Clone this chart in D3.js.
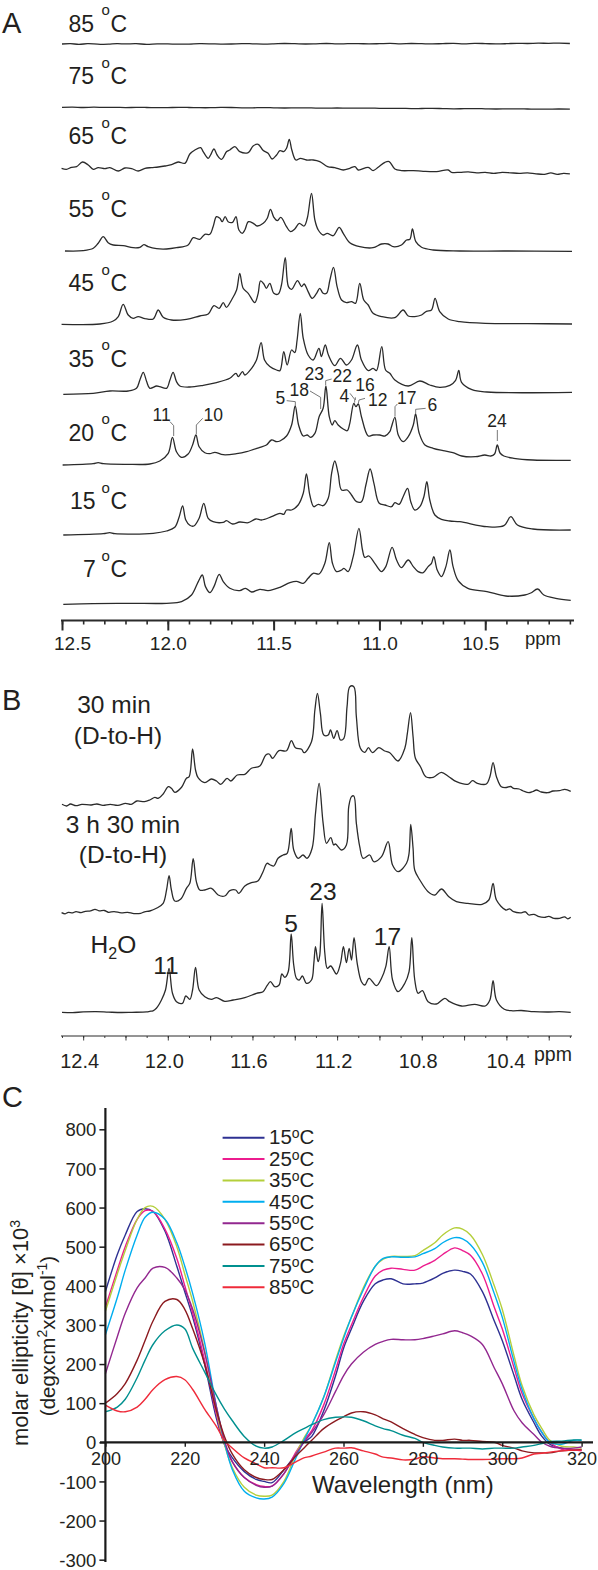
<!DOCTYPE html>
<html><head><meta charset="utf-8">
<script src="https://cdn.jsdelivr.net/npm/d3@7"></script>
<style>
html,body{margin:0;padding:0;background:#fff}
svg{display:block}
text{font-family:"Liberation Sans",Arial,sans-serif;fill:#231f20}
</style></head><body><svg id="c" width="598" height="1570"></svg>
<script>
// ---------- Panel A: NMR spectra, [ppm, intensity] ----------
const a85=[[12.5,0],[12.46,.3],[12.42,-.3],[12.38,.3],[12.35,.2],[12.31,-.3],[12.28,-.2],[12.24,.3],[12.2,.1],[12.15,.3],[12.1,-.3],[12.05,.2],[12,.1],[11.95,-.2],[11.9,-.1],[11.85,.3],[11.8,.2],[11.75,-.1],[11.7,0],[11.65,.4],[11.6,.2],[11.55,-.1],[11.5,.1],[11.45,.5],[11.4,.3],[11.35,0],[11.3,.2],[11.25,.5],[11.2,.1],[11.15,.3],[11.1,.4],[11.05,.1],[11,.3],[10.95,.6],[10.9,.2],[10.85,.5],[10.8,.3],[10.75,.1],[10.7,.4],[10.65,.6],[10.6,.2],[10.55,.6],[10.5,.4],[10.45,.1],[10.4,.3],[10.35,.7],[10.3,.5],[10.25,.8],[10.2,.7],[10.15,.9],[10.1,.5]];
const a75=[[12.5,0],[12.45,.2],[12.4,-.2],[12.35,.1],[12.3,-.1],[12.25,0],[12.2,-.3],[12.15,-.1],[12.1,-.2],[12.05,-.4],[12,-.3],[11.95,-.1],[11.9,-.2],[11.85,-.4],[11.8,-.4],[11.75,-.1],[11.7,-.2],[11.65,-.5],[11.6,-.5],[11.55,-.3],[11.5,-.5],[11.45,-.7],[11.4,-.6],[11.35,-.5],[11.3,-.8],[11.25,-.9],[11.2,-.7],[11.15,-.9],[11.1,-.9],[11.05,-.8],[11,-1],[10.95,-1.1],[10.9,-1],[10.85,-1.3],[10.8,-1.2],[10.75,-1.1],[10.7,-1.3],[10.65,-1.5],[10.6,-1.4],[10.55,-1.3],[10.5,-1.5],[10.45,-1.7],[10.4,-1.6],[10.35,-1.5],[10.3,-1.7],[10.25,-1.9],[10.2,-1.8],[10.15,-1.7],[10.1,-1.9]];
const a65=[[12.502,0],[12.479,-1],[12.455,1],[12.431,1.7],[12.403,6.3],[12.376,3.3],[12.352,-1],[12.329,.7],[12.297,-.3],[12.274,.7],[12.234,-2.7],[12.203,.3],[12.171,-.3],[12.14,-2.7],[12.108,0],[12.077,.7],[12.045,1.3],[12.014,2.3],[11.982,3.7],[11.951,6.3],[11.919,5],[11.896,14.3],[11.872,18.3],[11.845,20.7],[11.833,16.7],[11.809,10],[11.798,13.3],[11.782,19.3],[11.767,13.3],[11.746,9],[11.722,16.7],[11.707,18.3],[11.683,21.7],[11.66,16.7],[11.62,15.7],[11.597,22.3],[11.573,24],[11.549,17.7],[11.526,15],[11.507,9.3],[11.486,13.3],[11.47,17.7],[11.452,16.7],[11.439,20],[11.426,29],[11.414,18.3],[11.395,8.3],[11.373,10],[11.345,8.3],[11.313,8.3],[11.282,6.7],[11.245,1.7],[11.211,.7],[11.171,-1.7],[11.14,0],[11.116,1.7],[11.1,-1.7],[11.053,1],[11.03,-2.3],[11.006,1],[10.974,6],[10.954,6.7],[10.927,-.7],[10.896,-2.3],[10.84,-2.3],[10.793,-3],[10.73,-3.3],[10.675,-1.7],[10.659,-4],[10.62,-4],[10.58,-3.5],[10.54,-4.5],[10.5,-4],[10.46,-5],[10.42,-4],[10.38,-4.5],[10.34,-5],[10.3,-4.5],[10.26,-5.5],[10.22,-6],[10.19,-4.5],[10.16,-6],[10.13,-5],[10.1,-5.5]];
const a55=[[12.486,0],[12.4,.3],[12.352,2.7],[12.329,7.7],[12.305,14.3],[12.282,8.3],[12.258,6],[12.211,5.3],[12.164,3.3],[12.132,3.7],[12.113,6.3],[12.093,4.3],[12.053,2.3],[12.006,2],[11.959,3.3],[11.904,6],[11.88,13.3],[11.849,11.7],[11.825,16.7],[11.801,16.7],[11.786,24.3],[11.77,34.3],[11.754,32.7],[11.743,29.3],[11.729,34.3],[11.715,29.3],[11.694,28.7],[11.678,34.3],[11.664,21],[11.648,17.7],[11.636,21],[11.619,29.3],[11.596,27.7],[11.578,25],[11.549,27.7],[11.53,32.7],[11.515,41.7],[11.499,33.7],[11.483,30.3],[11.466,33.7],[11.439,24.3],[11.42,19.3],[11.4,22],[11.379,27.7],[11.356,25],[11.341,32.7],[11.321,57.7],[11.305,31],[11.289,21],[11.266,16],[11.247,17.7],[11.218,15.3],[11.19,23.7],[11.171,17.7],[11.14,8.3],[11.093,4.3],[11.03,3.3],[10.99,7],[10.959,7],[10.935,4.3],[10.896,6],[10.872,11],[10.856,11.7],[10.844,22],[10.828,9.3],[10.801,3.7],[10.746,1],[10.62,0],[10.4,0],[10.09,-.3]];
const a45=[[12.502,0],[12.321,.3],[12.258,3.3],[12.234,7.7],[12.211,20],[12.187,9.3],[12.164,6],[12.14,7.7],[12.108,5.7],[12.069,5.3],[12.045,14.3],[12.022,7],[11.982,4.3],[11.912,5],[11.849,8.3],[11.809,10.3],[11.782,18.7],[11.757,16],[11.738,21.7],[11.723,17],[11.699,24.3],[11.675,34.3],[11.66,51],[11.644,36],[11.62,31],[11.589,21.7],[11.573,31],[11.562,43.3],[11.546,40.3],[11.534,36],[11.518,41],[11.499,31],[11.478,30.3],[11.463,39.3],[11.445,66.7],[11.43,37.7],[11.415,35],[11.387,43.7],[11.368,37.7],[11.356,40.3],[11.337,32.7],[11.318,26],[11.297,31],[11.282,36],[11.266,31],[11.25,31],[11.234,44.3],[11.217,57],[11.2,37.7],[11.179,24.3],[11.156,21.7],[11.132,22.7],[11.113,21],[11.093,41],[11.074,24.3],[11.053,19.3],[11.03,11],[10.99,7.7],[10.927,6.7],[10.888,14.3],[10.864,8.3],[10.833,7.7],[10.801,9.3],[10.778,13],[10.754,14.3],[10.737,26],[10.715,12.7],[10.675,5.3],[10.62,2.7],[10.5,1],[10.3,.7],[10.09,.3]];
const a35=[[12.494,0],[12.353,1],[12.274,3.3],[12.187,3.3],[12.148,6],[12.132,14.3],[12.116,22],[12.1,12.7],[12.085,6],[12.053,8.3],[12.038,7.7],[12.006,6],[11.99,14.3],[11.975,22],[11.959,12.7],[11.943,8.3],[11.896,7.3],[11.833,9],[11.77,11.7],[11.707,16],[11.678,21],[11.667,17.7],[11.647,22.7],[11.636,19.3],[11.604,26],[11.581,34.3],[11.559,51.7],[11.543,34.3],[11.518,27.7],[11.486,24.3],[11.47,23.7],[11.452,42.7],[11.436,29.3],[11.415,44.3],[11.4,41.7],[11.389,54.3],[11.374,81],[11.36,56],[11.337,39.3],[11.313,34.3],[11.286,46],[11.274,37.7],[11.256,49.3],[11.241,39.3],[11.211,28.7],[11.184,36],[11.156,29.3],[11.132,34.3],[11.104,49.3],[11.085,34.3],[11.053,23.7],[11.03,26],[11.014,23.7],[10.989,47.7],[10.971,24.3],[10.951,21],[10.927,14.3],[10.864,8.3],[10.809,13.3],[10.762,9.3],[10.715,7],[10.667,9],[10.64,14],[10.625,24],[10.612,12],[10.563,4.7],[10.492,2.3],[10.09,2]];
const a20=[[12.497,0],[12.353,1.3],[12.329,2.3],[12.305,1.3],[12.195,.7],[12.085,1],[12.038,4],[11.998,11.7],[11.978,27.7],[11.959,13.3],[11.935,7.7],[11.904,11],[11.883,20],[11.867,30],[11.852,18.3],[11.825,12.3],[11.801,11.3],[11.778,12.7],[11.738,10.3],[11.675,11.3],[11.628,13.3],[11.565,17.7],[11.534,20],[11.51,25],[11.486,23.3],[11.47,24],[11.439,29],[11.415,40],[11.398,59],[11.382,40],[11.36,29],[11.341,30],[11.326,27.7],[11.305,31.7],[11.285,48.3],[11.266,56.7],[11.253,79],[11.237,48.3],[11.223,40],[11.211,44.3],[11.195,40],[11.171,36],[11.152,34.3],[11.14,41.7],[11.121,61.7],[11.111,58.3],[11.1,61],[11.085,48.3],[11.053,29],[11.03,30],[10.998,30],[10.974,29],[10.951,33.3],[10.943,38.3],[10.927,47.7],[10.911,30],[10.888,23.3],[10.864,28.3],[10.84,40],[10.829,51],[10.812,31.7],[10.785,20],[10.746,16.7],[10.699,14.3],[10.653,12.3],[10.611,9],[10.546,8.3],[10.502,10],[10.474,9],[10.456,11],[10.443,20],[10.43,12],[10.412,9],[10.365,6.7],[10.275,5],[10.096,4.7]];
const a15=[[12.494,0],[12.305,1.3],[12.274,2.3],[12.25,1.3],[12.069,1.7],[12.006,4],[11.967,7.7],[11.946,18.3],[11.93,29],[11.915,15],[11.896,9.7],[11.877,9],[11.852,16.7],[11.83,31.7],[11.809,16.7],[11.786,13.3],[11.738,12.7],[11.723,14.3],[11.694,11],[11.66,13],[11.62,12.3],[11.584,16],[11.557,15],[11.51,18.3],[11.47,21.7],[11.452,20.7],[11.439,25],[11.415,25],[11.384,30],[11.36,41.7],[11.345,61],[11.329,40],[11.31,28.3],[11.289,30.7],[11.266,29.3],[11.242,36.7],[11.226,61.7],[11.211,74],[11.195,61.7],[11.179,45],[11.152,45],[11.132,40],[11.108,33.3],[11.085,33.3],[11.064,50],[11.044,66],[11.026,51.7],[11.001,31.7],[10.974,30],[10.943,28.3],[10.927,32.3],[10.907,30.7],[10.888,38.3],[10.867,46.7],[10.852,33.3],[10.833,25],[10.809,28.3],[10.79,38.3],[10.776,53.3],[10.762,35],[10.738,20],[10.707,15.7],[10.667,14],[10.62,13.3],[10.492,8.3],[10.412,9.3],[10.379,18.3],[10.348,10],[10.275,6],[10.096,5]];
const a7=[[12.494,0],[12.353,.7],[12.179,1],[12.006,1],[11.935,2.7],[11.888,9.3],[11.856,22.7],[11.837,29.3],[11.822,17.7],[11.801,11.7],[11.782,17.7],[11.757,30],[11.738,22.7],[11.707,16],[11.66,13.7],[11.633,16],[11.604,12.3],[11.565,15],[11.526,13.7],[11.47,17],[11.423,21.7],[11.392,23],[11.36,21],[11.337,26],[11.313,31],[11.285,30.3],[11.258,41],[11.237,61.7],[11.222,41],[11.203,32.7],[11.179,34.3],[11.168,36],[11.148,32.7],[11.124,47.7],[11.097,76],[11.08,54.3],[11.069,47],[11.05,48.3],[11.022,41],[10.99,32.7],[10.97,37.7],[10.94,57],[10.919,44.3],[10.896,36.7],[10.864,44.3],[10.84,37.7],[10.817,32.7],[10.793,31.7],[10.77,37.7],[10.754,41],[10.743,47.7],[10.727,34.3],[10.707,27.7],[10.686,37.7],[10.667,54.3],[10.652,37.7],[10.628,23.7],[10.582,16],[10.492,12.7],[10.403,8.3],[10.313,9.3],[10.285,11.3],[10.252,15.3],[10.223,9.3],[10.167,6],[10.096,4]];
const panelASpectra=[a85,a75,a65,a55,a45,a35,a20,a15,a7];
const panelABaselines=[44,107.3,168.3,251,324.3,394.3,465,535,604.3];
const panelALabels=["85","75","65","55","45","35","20","15","7"];
const panelALabelY=[31.7,84,144,216.7,291,366.7,440.7,509,577.3];
const panelAMajor=[12.5,12,11.5,11,10.5];
const peakLabelsA=[["11",161.7,421],["10",213.3,421],["5",280.3,404],["18",299.3,396],["23",314.3,380],["22",342.3,382],["4",344.3,402],["16",365,391],["12",377.7,406],["17",406.7,404],["6",432.3,411],["24",497,427]];

// ---------- Panel B ----------
const b30=[[12.5,.7],[12.478,-1],[12.46,1],[12.434,-.7],[12.406,.7],[12.362,0],[12.335,1],[12.307,-.3],[12.272,.7],[12.236,-.3],[12.2,1.7],[12.173,.7],[12.146,4],[12.11,3.3],[12.085,5],[12.061,7.7],[12.046,6.7],[12.022,11],[11.998,18.3],[11.983,16.7],[11.967,12.7],[11.935,17.7],[11.912,26.7],[11.899,28.3],[11.883,56],[11.869,35],[11.857,27.3],[11.825,22.3],[11.794,26],[11.77,24],[11.75,20.7],[11.72,26.7],[11.702,24],[11.672,30],[11.636,30.7],[11.605,36.7],[11.565,39],[11.537,50],[11.521,51],[11.505,46.7],[11.475,54.3],[11.439,54.3],[11.416,64.3],[11.397,57.3],[11.368,55.7],[11.356,52.3],[11.321,63.3],[11.305,95],[11.293,111.7],[11.279,91.7],[11.263,70],[11.242,70],[11.231,75],[11.216,66.7],[11.2,74.3],[11.184,65],[11.168,66.7],[11.153,98.3],[11.14,118.3],[11.121,118.3],[11.109,88.3],[11.09,56.7],[11.069,52.7],[11.052,57.3],[11.033,52.3],[11.003,57.3],[10.975,54],[10.951,52.3],[10.912,44],[10.88,56.7],[10.868,71.7],[10.853,92.3],[10.841,68.3],[10.83,46.7],[10.806,38.3],[10.781,28.3],[10.746,27.7],[10.707,32.7],[10.672,28.3],[10.636,23.3],[10.582,20.7],[10.56,24.3],[10.537,21.7],[10.495,21],[10.478,28.3],[10.463,42.3],[10.447,28.3],[10.424,18.3],[10.4,17.5],[10.38,18.5],[10.366,16.7],[10.34,16],[10.32,14],[10.294,12.3],[10.275,13.5],[10.258,15],[10.235,13],[10.204,12.3],[10.18,14],[10.15,14.3],[10.124,15.7],[10.096,13.7]];
const b330=[[12.502,.7],[12.485,-.5],[12.47,1],[12.45,.5],[12.434,1.7],[12.41,.7],[12.39,2],[12.365,2.5],[12.344,4],[12.325,2.5],[12.3,2.8],[12.28,1],[12.254,1.7],[12.22,.5],[12.19,1],[12.16,-.3],[12.128,0],[12.11,1.5],[12.085,2.3],[12.054,5],[12.022,10],[12.006,23.3],[11.994,37.7],[11.983,23.3],[11.967,12.3],[11.94,14],[11.912,25],[11.896,30],[11.88,54.6],[11.865,31.6],[11.849,23.3],[11.825,23.3],[11.794,25],[11.762,18.3],[11.731,17.3],[11.707,22.6],[11.679,23.3],[11.665,20],[11.636,27.3],[11.605,30.6],[11.573,32.6],[11.55,41.6],[11.531,50],[11.515,48.3],[11.499,47.3],[11.479,55],[11.455,58.3],[11.436,60],[11.417,85],[11.405,63.3],[11.384,55],[11.361,58.3],[11.342,55],[11.318,65],[11.302,100],[11.285,130],[11.266,90],[11.25,70],[11.23,75.6],[11.216,68.3],[11.208,69.3],[11.179,63.3],[11.156,68.3],[11.145,106.6],[11.132,116.7],[11.121,117.3],[11.109,90],[11.093,66.6],[11.077,55],[11.046,58.3],[11.027,51.6],[10.99,56.6],[10.959,71.6],[10.938,48.3],[10.912,41.6],[10.872,50],[10.86,60],[10.852,89],[10.841,65],[10.833,43],[10.809,33.3],[10.77,21.6],[10.738,18.3],[10.707,24.3],[10.672,16.6],[10.636,11.6],[10.582,10],[10.515,9],[10.483,13.3],[10.463,30],[10.447,13.3],[10.403,3.3],[10.385,4.5],[10.366,1.6],[10.33,.5],[10.31,1.5],[10.294,-1.7],[10.27,-1],[10.25,-3],[10.22,-4],[10.2,-3],[10.175,-5],[10.15,-5],[10.125,-3.5],[10.11,-5.5],[10.096,-4]];
const bH2O=[[12.5,0],[12.45,-.3],[12.4,.4],[12.34,.7],[12.28,.2],[12.22,-.2],[12.17,0],[12.1,.4],[12.085,1],[12.07,1.5],[12.054,4],[12.03,12.3],[12.011,22.3],[11.994,44],[11.978,19],[11.959,10.6],[11.931,9],[11.915,16.3],[11.896,13],[11.883,22.3],[11.869,45],[11.852,22.3],[11.825,15.6],[11.794,13],[11.77,14.6],[11.731,11],[11.691,12.3],[11.636,14.6],[11.581,19],[11.55,20.6],[11.531,26.6],[11.515,30.6],[11.494,25.6],[11.474,27.3],[11.461,38.3],[11.447,35],[11.431,40.6],[11.417,78.3],[11.405,47.3],[11.392,34],[11.379,32.3],[11.364,36.3],[11.345,29],[11.321,32.3],[11.31,49],[11.302,65.6],[11.29,50.6],[11.282,57],[11.271,109],[11.258,59],[11.246,44],[11.23,46.3],[11.203,38.3],[11.184,49],[11.17,65.6],[11.156,49.6],[11.143,64],[11.132,52.3],[11.12,74.6],[11.105,49],[11.085,30.6],[11.069,27.3],[11.049,34],[11.014,26.6],[10.99,34],[10.97,45.6],[10.954,65.6],[10.938,32.3],[10.912,20.6],[10.88,29],[10.86,40.6],[10.847,74.6],[10.833,32.3],[10.817,19],[10.797,21.6],[10.77,10.6],[10.731,8.3],[10.691,14],[10.668,10.6],[10.612,6.3],[10.55,8],[10.5,6.3],[10.478,12.3],[10.463,31.6],[10.447,12.3],[10.41,3],[10.37,1.5],[10.33,1.8],[10.27,.6],[10.2,.3],[10.15,.6],[10.096,0]];
const panelBSpectra=[b30,b330,bH2O];
const panelBBaselines=[805,913.3,1012.3];
const panelBMajor=[12.4,12,11.6,11.2,10.8,10.4];

// ---------- Panel C: circular dichroism ----------
const nm=[200,203,205,208,210,212,215,218,220,222,225,228,230,232,235,238,240,242,245,248,250,252,255,258,260,262,265,268,270,272,275,278,280,283,285,288,290,292,295,298,300,303,305,308,310,312,315,318,320];
const cd15=[385,480,530,590,597,590,540,450,385,320,200,60,-5,-40,-75,-95,-100,-103,-70,-30,0,15,80,170,240,290,360,405,415,418,405,405,407,420,432,440,437,430,385,310,260,170,110,50,15,-5,-15,-20,-20];
const cd25=[345,440,500,570,592,590,545,470,400,330,210,70,-5,-50,-90,-108,-113,-112,-80,-25,5,30,95,185,250,300,370,425,440,445,442,440,450,465,480,497,490,478,430,345,290,190,125,60,25,0,-18,-20,-22];
const cd35=[335,430,490,570,600,603,570,500,430,360,235,80,-5,-65,-115,-135,-138,-135,-100,-30,10,45,115,210,270,320,395,450,468,475,475,477,490,510,530,548,545,530,480,400,340,220,145,70,35,5,-10,-12,-15];
const cd45=[275,370,440,530,575,588,570,510,450,380,255,90,0,-70,-125,-142,-145,-140,-105,-40,5,45,115,205,265,320,390,450,470,474,473,474,482,495,510,523,520,505,460,380,320,205,135,60,25,0,-5,5,5];
const cd55=[175,270,330,395,420,445,447,420,390,340,230,90,5,-50,-90,-110,-115,-112,-80,-30,0,25,70,130,170,200,230,250,258,263,262,262,265,272,277,285,280,272,250,190,150,80,50,20,0,-10,-15,-15,-12];
const cd65=[100,125,150,210,260,310,360,365,340,290,200,80,15,-30,-70,-90,-95,-95,-70,-35,-15,5,35,55,65,75,78,70,60,52,35,20,12,5,5,8,5,5,2,0,-8,-15,-22,-27,-27,-27,-22,-20,-18];
const cd75=[78,90,110,165,210,250,285,300,290,240,180,120,85,55,15,-10,-15,-12,5,25,35,45,58,64,65,64,55,42,35,30,18,10,0,-8,-12,-15,-15,-15,-17,-15,-15,-15,-12,-8,-3,2,3,6,6];
const cd85=[95,80,78,90,110,135,160,168,160,135,85,40,5,-15,-40,-55,-65,-65,-65,-50,-40,-35,-25,-15,-15,-14,-22,-30,-38,-40,-45,-43,-37,-40,-42,-42,-43,-44,-44,-43,-42,-42,-40,-30,-28,-25,-22,-20,-20];
const cdSeries=[cd15,cd25,cd35,cd45,cd55,cd65,cd75,cd85];
const cdLabels=["15","25","35","45","55","65","75","85"];
const cdColors=["#2e3192","#ec1c8e","#b4cf3b","#00aeef","#92278f","#8b1a1f","#00908f","#ef2b3a"];
const nmTicks=[200,220,240,260,280,300,320];
const cdTicks=[800,700,600,500,400,300,200,100,0,-100,-200,-300];

const svg=d3.select("#c");
const ink="#2b2b2b";

// shared ppm scale
const xPpm=d3.scaleLinear().domain([12.5,10.09]).range([62,572]);
const yUnit=d3.scaleLinear().domain([0,100]).range([0,-100]);
const specLine=d3.line().x(d=>xPpm(d[0])).y(d=>yUnit(d[1])).curve(d3.curveCatmullRom.alpha(.5));
const tenths=d3.range(125,100,-1).map(v=>v/10);

function drawSpectra(list,bases){
  list.forEach((s,i)=>{
    svg.append("path").attr("transform",`translate(0,${bases[i]})`).attr("d",specLine(s))
      .attr("fill","none").attr("stroke",ink).attr("stroke-width",1.3).attr("stroke-linejoin","round");
  });
}
function txt(t,x,y,size,anchor){
  return svg.append("text").attr("x",x).attr("y",y).attr("text-anchor",anchor||"start").style("font-size",size+"px").text(t);
}

// panel letters
txt("A",2,33,29); txt("B",2,710,29); txt("C",2,1107,29);

// ---- A ----
drawSpectra(panelASpectra,panelABaselines);
panelALabels.forEach((l,i)=>{
  const x=l==="7"?83:(l==="15"?70:68.5), y=panelALabelY[i];
  txt(l,x,y,23);
  txt("o",101.5,y-16.5,15);
  txt("C",110.5,y,23);
});
const axA=svg.append("g").attr("transform","translate(0,620.5)");
axA.call(d3.axisBottom(xPpm).tickValues(tenths).tickSize(4).tickFormat(""));
const axA2=svg.append("g").attr("transform","translate(0,620.5)");
axA2.call(d3.axisBottom(xPpm).tickValues(panelAMajor).tickSize(10).tickFormat(d3.format(".1f")));
axA.selectAll("path").attr("stroke",ink).attr("stroke-width",2).attr("d","M61,0H574");
axA2.selectAll("path").remove();
axA.selectAll("line").attr("stroke",ink).attr("stroke-width",1.6);
axA2.selectAll("line").attr("stroke",ink).attr("stroke-width",2);
axA2.selectAll("text").style("font-size","19px").attr("y",16.5).attr("fill",null)
  .attr("dx",d=>d===12.5?10:(d===10.5?-5:0));
txt("ppm",525,645,18.5);

peakLabelsA.forEach(d=>txt(d[0],d[1],d[2],17.5,"middle"));
const leader=d3.line();
const toRef=(p)=>[60+p[0]/3,310+p[1]/3];
const leadersA=[
 [[330,335],[341,347],[341,378]],[[428,325],[409,345],[409,372]],[[680,272],[706,275],[706,287]],
 [[750,243],[782,262],[782,297]],[[797,225],[797,212],[815,207]],[[870,250],[884,268],[884,278]],
 [[886,262],[886,270]],[[915,265],[897,270],[895,280]],[[1012,282],[1005,290],[1005,320]],
 [[1097,295],[1067,298],[1067,310]],[[1312,360],[1312,393]]];
leadersA.forEach(l=>svg.append("path").attr("d",leader(l.map(toRef))).attr("fill","none").attr("stroke","#555").attr("stroke-width",.8));

// ---- B ----
drawSpectra(panelBSpectra,panelBBaselines);
[["30 min",114,713],["(D-to-H)",118,744],["3 h 30 min",123,833],["(D-to-H)",123,863]].forEach(d=>txt(d[0],d[1],d[2],24.5,"middle"));
const h2o=txt("H",90.6,953,24.5);
h2o.append("tspan").attr("dy",6).style("font-size","16px").text("2");
h2o.append("tspan").attr("dy",-6).text("O");
[["11",166,974],["5",291,932],["23",323,900],["17",387.5,945]].forEach(d=>txt(d[0],d[1],d[2],24.5,"middle"));
const axB=svg.append("g").attr("transform","translate(0,1036)");
axB.call(d3.axisBottom(xPpm).tickValues(tenths).tickSize(2).tickFormat(""));
axB.selectAll("path").attr("stroke",ink).attr("stroke-width",1).attr("d","M61,0H572");
axB.selectAll("line").attr("stroke",ink).attr("stroke-width",.9);
const axB2=svg.append("g").attr("transform","translate(0,1036)");
axB2.call(d3.axisBottom(xPpm).tickValues(d3.range(124,100,-2).map(v=>v/10)).tickSize(4.5)
  .tickFormat(d=>panelBMajor.includes(d)?d3.format(".1f")(d):""));
axB2.selectAll("path").remove();
axB2.selectAll("line").attr("stroke",ink).attr("stroke-width",.9);
axB2.selectAll("text").style("font-size","20px").attr("y",18).attr("fill",null).attr("dx",d=>d===10.4?-1:-4);
txt("ppm",534,1061,19.5);

// ---- C ----
const xNm=d3.scaleLinear().domain([200,320]).range([105.4,581.6]);
const yCd=d3.scaleLinear().domain([0,800]).range([1442.3,1129.3]);
const cdLine=d3.line().x((d,i)=>xNm(nm[i])).y(d=>yCd(d)).curve(d3.curveCatmullRom.alpha(.5));
cdSeries.forEach((s,i)=>{
  svg.append("path").attr("d",cdLine(s)).attr("fill","none").attr("stroke",cdColors[i]).attr("stroke-width",1.4);
});
const axY=svg.append("g").attr("transform","translate(105.4,0)");
axY.call(d3.axisLeft(yCd).tickValues(cdTicks).tickSize(6).tickFormat(d=>d));
axY.selectAll("path").attr("stroke","#1a1a1a").attr("stroke-width",2.2).attr("d","M0,1108V1562");
axY.selectAll("line").attr("stroke","#1a1a1a").attr("stroke-width",1.5);
axY.selectAll("text").style("font-size","18.5px").attr("fill",null).attr("x",-9).attr("dy",".36em");
const axX=svg.append("g").attr("transform","translate(0,1442.3)");
axX.call(d3.axisBottom(xNm).tickValues(nmTicks).tickSize(4.5).tickFormat(d=>d));
axX.selectAll("path").attr("stroke","#1a1a1a").attr("stroke-width",2.2).attr("d","M100,0H593");
axX.selectAll("line").attr("stroke","#1a1a1a").attr("stroke-width",1.4);
axX.selectAll("text").style("font-size","18px").attr("fill",null).attr("y",10).attr("dy",".71em");
svg.append("text").attr("x",312).attr("y",1493).style("font-size","24px").text("Wavelength (nm)");

const t1=svg.append("text").attr("transform","translate(28,1333) rotate(-90)").attr("text-anchor","middle").style("font-size","22px");
t1.append("tspan").text("molar ellipticity [θ] ×10");
t1.append("tspan").attr("dy",-8).style("font-size","14px").text("3");
const t2=svg.append("text").attr("transform","translate(55,1336) rotate(-90)").attr("text-anchor","middle").style("font-size","20.5px");
t2.append("tspan").text("(degxcm");
t2.append("tspan").attr("dy",-8).style("font-size","14px").text("2");
t2.append("tspan").attr("dy",8).text("xdmol");
t2.append("tspan").attr("dy",-8).style("font-size","14px").text("-1");
t2.append("tspan").attr("dy",8).text(")");

const legY=d3.scaleLinear().domain([0,7]).range([1137.7,1287.3]);
cdLabels.forEach((l,i)=>{
  const y=legY(i);
  svg.append("line").attr("x1",222.6).attr("x2",264.5).attr("y1",y).attr("y2",y).attr("stroke",cdColors[i]).attr("stroke-width",2);
  const t=svg.append("text").attr("x",269).attr("y",y+6.7).style("font-size","20.5px");
  t.append("tspan").text(l);
  t.append("tspan").attr("dy",-6).style("font-size","14px").text("o");
  t.append("tspan").attr("dy",6).text("C");
});
</script></body></html>
